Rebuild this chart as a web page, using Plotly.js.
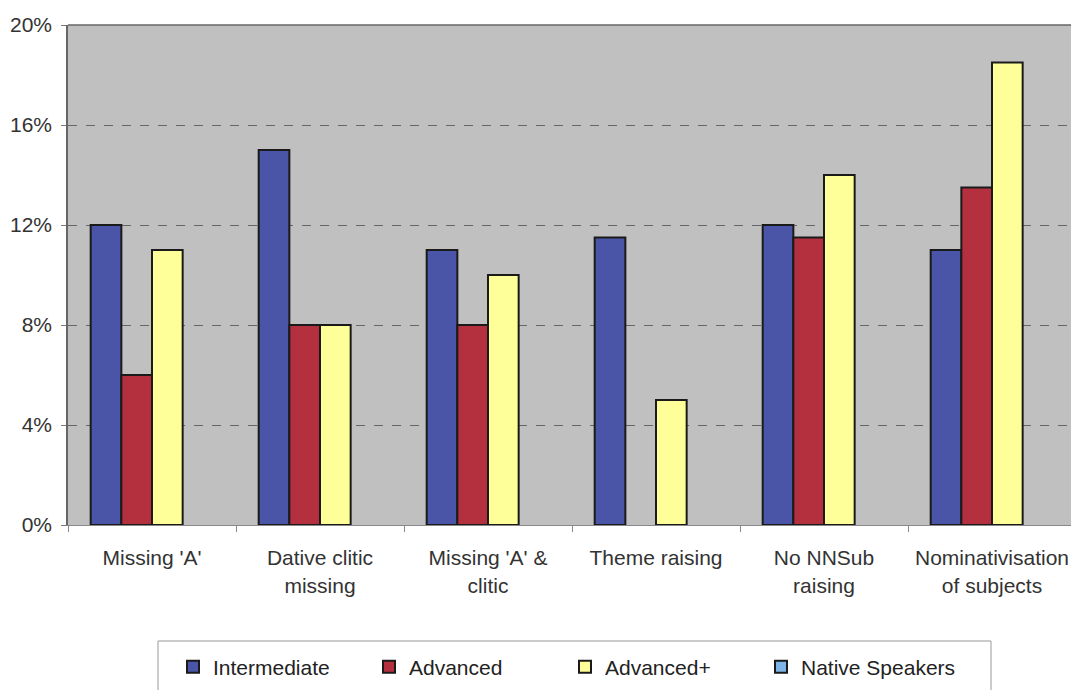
<!DOCTYPE html>
<html>
<head>
<meta charset="utf-8">
<script src="https://cdn.plot.ly/plotly-3.0.1.min.js"></script>
<style>html,body{margin:0;padding:0;background:#fff;overflow:hidden;width:1071px;height:690px;}#chart{width:1076px;height:690px;}</style>
</head>
<body>
<div id="chart"></div>
<script>
const categories = ["Missing 'A'", "Dative clitic<br>missing", "Missing 'A' &amp;<br>clitic", "Theme raising", "No NNSub<br>raising", "Nominativisation<br>of subjects"];
const intermediate = [12, 15, 11, 11.5, 12, 11];
const advanced = [6, 8, 8, 0, 11.5, 13.5];
const advancedPlus = [11, 8, 10, 5, 14, 18.5];
const nativeSpeakers = [0, 0, 0, 0, 0, 0];
const yTicks = [0, 4, 8, 12, 16, 20];
const yTickLabels = ["0%", "4%", "8%", "12%", "16%", "20%"];

const line = {color: '#1a1a1a', width: 2};
function tr(name, y, color) {
  // zero-height bars are not drawn (no outline stroke on the baseline)
  return {type: 'bar', name: name, x: categories, y: y.map(v => v === 0 ? null : v), marker: {color: color, line: line}};
}
const data = [
  tr('Intermediate', intermediate, '#4a55a8'),
  tr('Advanced', advanced, '#b5303f'),
  tr('Advanced+', advancedPlus, '#ffff99'),
  tr('Native Speakers', nativeSpeakers, '#7fb5e6')
];

// the plot area runs slightly past the right edge of the picture, as in the reference
const W = 1076, H = 690, L = 68, R = 0, T = 25, B = 165;
const PW = W - L - R, PH = H - T - B;
const px2x = p => (p - L) / PW;
const px2y = p => (H - B - p) / PH;

const layout = {
  width: W, height: H,
  margin: {l: L, r: R, t: T, b: B},
  paper_bgcolor: '#ffffff',
  plot_bgcolor: '#c0c0c0',
  barmode: 'group',
  bargap: 0.27,
  bargroupgap: 0,
  font: {family: 'Liberation Sans, Arial, sans-serif', size: 21, color: '#333'},
  xaxis: {
    tickson: 'boundaries', ticks: 'outside', ticklen: 6, tickcolor: '#888',
    showline: true, linecolor: '#888', linewidth: 1, mirror: false,
    showgrid: false, ticklabelstandoff: 14,
    tickfont: {size: 21, color: '#333'}
  },
  yaxis: {
    range: [0, 20], tickvals: yTicks, ticktext: yTickLabels,
    ticks: 'outside', ticklen: 5, tickcolor: '#777',
    showline: true, linecolor: '#666', linewidth: 1.5,
    showgrid: true, gridcolor: '#666', griddash: 'dash', gridwidth: 1,
    zeroline: false, ticklabelstandoff: 5,
    tickfont: {size: 21, color: '#333'}
  },
  shapes: [
    {type: 'line', xref: 'paper', yref: 'paper', x0: 0, x1: 1, y0: 1, y1: 1, line: {color: '#666', width: 1.5}},
    {type: 'rect', xref: 'paper', yref: 'paper', x0: px2x(158), x1: px2x(991), y0: px2y(641), y1: px2y(700), line: {color: '#999', width: 1}, fillcolor: 'rgba(0,0,0,0)'}
  ],
  showlegend: true,
  legend: {
    orientation: 'h', xref: 'container', yref: 'container', x: 173 / W, y: (H - 667) / H, xanchor: 'left', yanchor: 'middle',
    borderwidth: 0, bgcolor: 'rgba(0,0,0,0)',
    entrywidth: 151, entrywidthmode: 'pixels', itemwidth: 30,
    font: {size: 21, color: '#222'}
  }
};
Plotly.newPlot('chart', data, layout, {displayModeBar: false});
</script>
</body>
</html>
